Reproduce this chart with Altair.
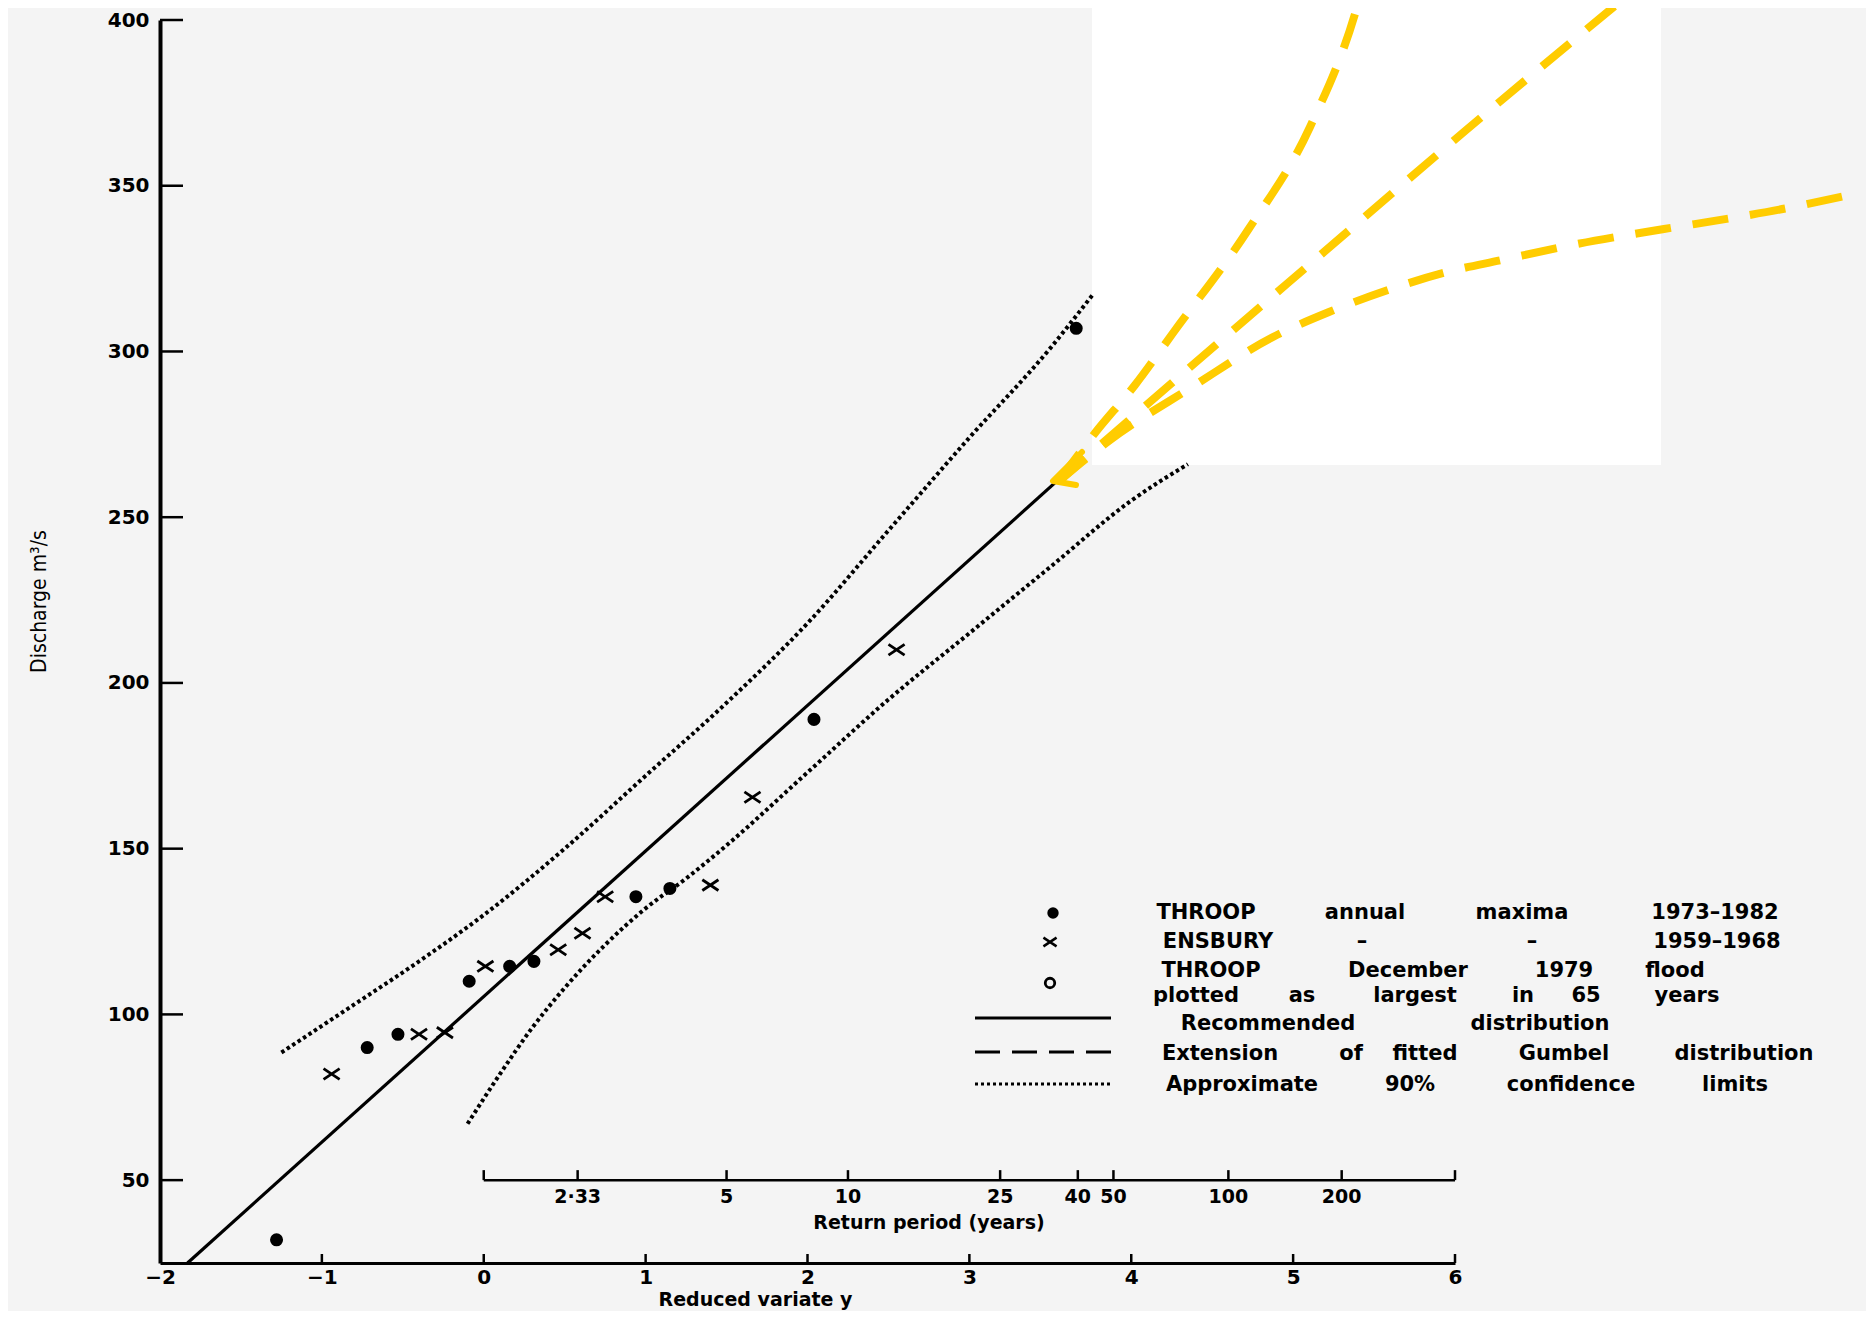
import altair as alt
import pandas as pd

# ---------------- data ----------------
y_tick_values = [50, 100, 150, 200, 250, 300, 350, 400]
x_tick_values = [-2, -1, 0, 1, 2, 3, 4, 5, 6]
x_small_ticks = [-1, 0, 1, 2, 3, 4, 5, 6]

rp_labels = ["2·33", "5", "10", "25", "40", "50", "100", "200"]
rp_variate = [0.58, 1.50, 2.25, 3.19, 3.67, 3.89, 4.60, 5.30]
rp_ends = [0, 6]

# THROOP annual maxima 1973-1982
throop_v = [-1.28, -0.72, -0.53, -0.09, 0.16, 0.31, 0.94, 1.15, 2.04, 3.66]
throop_q = [32, 90, 94, 110, 114.5, 116, 135.5, 138, 189, 307]

# ENSBURY 1959-1968
ensbury_v = [-0.94, -0.40, -0.24, 0.01, 0.46, 0.61, 0.75, 1.40, 1.66, 2.55]
ensbury_q = [82, 94, 94.5, 114.5, 119.5, 124.5, 135.5, 139, 165.5, 210]

# Recommended distribution
rec_v = [-1.83, 3.65]
rec_q = [25.0, 265.7]

# Approximate 90% confidence limits
upper_v = [-1.25, -0.8, -0.4, 0.0, 0.5, 1.0, 1.5, 2.0, 2.5, 3.0, 3.5, 3.76]
upper_q = [88.5, 103, 116, 130, 150, 172, 194, 218, 246, 274, 301, 317]
lower_v = [-0.10, 0.1, 0.3, 0.5, 0.75, 1.0, 1.25, 1.5, 2.0, 2.5, 3.0, 3.5, 4.0, 4.35]
lower_q = [67, 82, 96, 108, 121, 132, 141, 151, 173, 195, 215, 235, 255, 266]

# Legend text
leg_words = ["THROOP", "annual", "maxima", "1973–1982",
             "ENSBURY", "–", "–", "1959–1968",
             "THROOP", "December", "1979", "flood",
             "plotted", "as", "largest", "in", "65", "years",
             "Recommended", "distribution",
             "Extension", "of", "fitted", "Gumbel", "distribution",
             "Approximate", "90%", "confidence", "limits"]
leg_row = [0] * 4 + [1] * 4 + [2] * 4 + [3] * 6 + [4] * 2 + [5] * 5 + [6] * 4

# ---------------- layout (pixels, relative to plot origin) ----------------
leg_word_x = [1046, 1205, 1362, 1555,
              1058, 1202, 1372, 1557,
              1051, 1248, 1404, 1515,
              1036, 1142, 1255, 1363, 1426, 1527,
              1108, 1380,
              1060, 1191, 1265, 1404, 1584,
              1082, 1250, 1411, 1575]
leg_row_y = [893, 922, 951, 976, 1004, 1034, 1065]

# yellow annotation strokes
ann1_x = [898, 935, 975, 1013, 1088, 1150, 1197, 1199]
ann1_y = [462, 413, 365, 313, 210, 107, -13, -20]
ann2_x = [898, 1013, 1150, 1305, 1462]
ann2_y = [462, 362, 244, 111, -20]
ann3_x = [898, 950, 1032, 1113, 1169, 1228, 1287, 1342, 1417, 1504, 1572, 1628, 1698]
ann3_y = [462, 420, 367, 317, 292, 270, 252, 240, 224, 209, 198, 188, 173]
arrow_x = [922, 893, 916]
arrow_y = [432, 461, 465]

W, H = 1295, 1243
FONT = "DejaVu Sans"
BLACK = "black"
YEL = "#FFCC00"

xs = alt.Scale(domain=[-2, 6], nice=False, zero=False)
ys = alt.Scale(domain=[25, 400], nice=False, zero=False)

AX = alt.Axis(
    values=x_tick_values, ticks=False, grid=False, domainColor=BLACK, domainWidth=3,
    labelFont=FONT, labelFontSize=20, labelFontWeight="bold", labelColor=BLACK,
    labelPadding=4, labelFlush=False,
    title="Reduced variate y", titleFont=FONT, titleFontSize=19, titleFontWeight="bold",
    titleColor=BLACK, titleX=595, titleY=36, titleBaseline="middle", titleAlign="center")
AY = alt.Axis(
    values=y_tick_values, ticks=False, grid=False, domainColor=BLACK, domainWidth=4,
    labelFont=FONT, labelFontSize=20, labelFontWeight="bold", labelColor=BLACK,
    labelPadding=11, labelFlush=False,
    title="Discharge m³/s", titleFont="DejaVu Sans Condensed, DejaVu Sans", titleFontSize=21,
    titleFontWeight="normal", titleColor=BLACK, titleAngle=270, titleX=-121, titleY=581,
    titleBaseline="middle", titleAlign="center")


def X(f="v"):
    return alt.X(f + ":Q", scale=xs, axis=AX)


def Y(f="q"):
    return alt.Y(f + ":Q", scale=ys, axis=AY)


def PX(f):
    return alt.X(f + ":Q", scale=None)


def PY(f):
    return alt.Y(f + ":Q", scale=None)


# white cover box
box = alt.Chart(pd.DataFrame({"a": [932], "b": [1501], "c": [-12], "d": [445]})).mark_rect(
    color="white").encode(x=PX("a"), x2="b", y=PY("c"), y2="d")

rec = alt.Chart(pd.DataFrame({"v": rec_v, "q": rec_q})).mark_line(
    color=BLACK, strokeWidth=3.2).encode(x=X(), y=Y())

upper = alt.Chart(pd.DataFrame({"v": upper_v, "q": upper_q})).mark_line(
    color=BLACK, strokeWidth=4, strokeDash=[3.5, 3], interpolate="monotone").encode(x=X(), y=Y())
lower = alt.Chart(pd.DataFrame({"v": lower_v, "q": lower_q})).mark_line(
    color=BLACK, strokeWidth=4, strokeDash=[3.5, 3], interpolate="monotone").encode(x=X(), y=Y())

ytick = alt.Chart(pd.DataFrame({"v": [-2] * len(y_tick_values), "q": y_tick_values})).mark_tick(
    orient="horizontal", size=23, thickness=2.5, color=BLACK, xOffset=11.5, opacity=1).encode(x=X(), y=Y())
xtick = alt.Chart(pd.DataFrame({"v": x_small_ticks, "q": [25] * len(x_small_ticks)})).mark_tick(
    orient="vertical", size=9, thickness=2.5, color=BLACK, yOffset=-4.5, opacity=1).encode(x=X(), y=Y())

rp_axis = alt.Chart(pd.DataFrame({"v": [0], "v2": [6], "q": [50]})).mark_rule(
    color=BLACK, strokeWidth=2.5).encode(x=X(), x2="v2", y=Y())
rp_all = rp_ends + rp_variate
rp_tick = alt.Chart(pd.DataFrame({"v": rp_all, "q": [50] * len(rp_all)})).mark_tick(
    orient="vertical", size=10, thickness=2.5, color=BLACK, yOffset=-5, opacity=1).encode(x=X(), y=Y())
rp_text = alt.Chart(pd.DataFrame({"v": rp_variate, "t": rp_labels})).mark_text(
    font=FONT, fontSize=19, fontWeight="bold", color=BLACK, align="center", baseline="middle").encode(
    x=X(), y=alt.value(1177), text="t:N")
rp_title = alt.Chart(pd.DataFrame({"a": [769], "b": [1203], "t": ["Return period (years)"]})).mark_text(
    font=FONT, fontSize=19, fontWeight="bold", color=BLACK, align="center", baseline="middle").encode(
    x=PX("a"), y=PY("b"), text="t:N")

dots = alt.Chart(pd.DataFrame({"v": throop_v, "q": throop_q})).mark_point(
    shape="circle", filled=True, size=170, color=BLACK, opacity=1).encode(x=X(), y=Y())
XPATH = "M-1.2,-0.8L1.2,0.8M1.2,-0.8L-1.2,0.8"
crosses = alt.Chart(pd.DataFrame({"v": ensbury_v, "q": ensbury_q})).mark_point(
    shape=XPATH, filled=False, size=180, strokeWidth=2.8, color=BLACK, opacity=1).encode(x=X(), y=Y())

# legend
lw = pd.DataFrame({"a": leg_word_x, "b": [leg_row_y[r] for r in leg_row], "t": leg_words})
leg_text = alt.Chart(lw).mark_text(
    font=FONT, fontSize=21, fontWeight="bold", color=BLACK, align="center", baseline="middle").encode(
    x=PX("a"), y=PY("b"), text="t:N")
leg_dot = alt.Chart(pd.DataFrame({"a": [893], "b": [893]})).mark_point(
    shape="circle", filled=True, size=130, color=BLACK, opacity=1).encode(x=PX("a"), y=PY("b"))
leg_x = alt.Chart(pd.DataFrame({"a": [890], "b": [922]})).mark_point(
    shape=XPATH, filled=False, size=120, strokeWidth=2.5, color=BLACK, opacity=1).encode(x=PX("a"), y=PY("b"))
leg_o = alt.Chart(pd.DataFrame({"a": [890], "b": [963]})).mark_point(
    shape="circle", filled=False, size=90, strokeWidth=2.8, color=BLACK, opacity=1).encode(x=PX("a"), y=PY("b"))
leg_solid = alt.Chart(pd.DataFrame({"a": [815], "a2": [951], "b": [998]})).mark_rule(
    color=BLACK, strokeWidth=2.8).encode(x=PX("a"), x2="a2", y=PY("b"))
leg_dash = alt.Chart(pd.DataFrame({"a": [815], "a2": [951], "b": [1032]})).mark_rule(
    color=BLACK, strokeWidth=2.8, strokeDash=[25, 12]).encode(x=PX("a"), x2="a2", y=PY("b"))
leg_dot_line = alt.Chart(pd.DataFrame({"a": [815], "a2": [951], "b": [1064]})).mark_rule(
    color=BLACK, strokeWidth=3.2, strokeDash=[3, 3]).encode(x=PX("a"), x2="a2", y=PY("b"))

# yellow annotation
ann_rows = []
for k, (ax, ay) in enumerate([(ann1_x, ann1_y), (ann2_x, ann2_y), (ann3_x, ann3_y)]):
    for i, (a, b) in enumerate(zip(ax, ay)):
        ann_rows.append({"line": k, "i": i, "a": a, "b": b})
ann = alt.Chart(pd.DataFrame(ann_rows)).mark_line(
    color=YEL, strokeWidth=8, strokeDash=[36, 22], interpolate="monotone").encode(
    x=PX("a"), y=PY("b"), detail="line:N", order="i:Q")
arrow = alt.Chart(pd.DataFrame({"a": arrow_x, "b": arrow_y, "i": [0, 1, 2]})).mark_line(
    color=YEL, strokeWidth=6, strokeCap="round", strokeJoin="round").encode(
    x=PX("a"), y=PY("b"), order="i:Q")

chart = alt.layer(
    box, rec, upper, lower, ytick, xtick, rp_axis, rp_tick, rp_text, rp_title,
    dots, crosses, leg_text, leg_dot, leg_x, leg_o, leg_solid, leg_dash, leg_dot_line,
    ann, arrow,
).properties(
    width=W, height=H,
    autosize=alt.AutoSizeParams(type="none"),
    padding={"left": 152, "top": 12, "right": 411, "bottom": 48},
    background="#f4f4f4",
).configure_view(stroke=None)

chart.save("out.html", embed_options={"renderer": "svg", "actions": False})
